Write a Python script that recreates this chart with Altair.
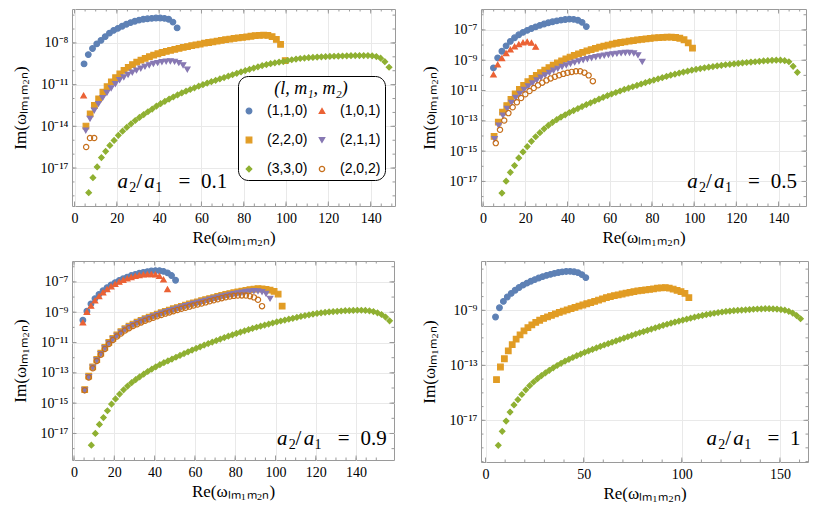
import altair as alt
import pandas as pd

# ---------------- legend / styling tables ----------------
# legend is filled column by column, so this order gives rows (1,1,0)|(1,0,1), (2,2,0)|(2,1,1), (3,3,0)|(2,0,2)
SERIES = ["(1,1,0)", "(2,2,0)", "(3,3,0)", "(1,0,1)", "(2,1,1)", "(2,0,2)"]
COLORS = ["#5E81B5", "#E19C24", "#8FB032", "#EB6235", "#8778B3", "#C56E1A"]
FILLS = ["#5E81B5", "#E19C24", "#8FB032", "#EB6235", "#8778B3", "transparent"]
SHAPES = ["circle", "square", "diamond", "triangle-up", "triangle-down", "circle"]
SIZES = [32, 28, 36, 40, 40, 24]

SERIF = "Liberation Serif"
SANS = "Liberation Sans"
FRAME = "#9a9a9a"
GRID = "#e9e9e9"

# ---------------- data (x = Re, y = log10 Im) ----------------
# panel 1 : a2/a1 = 0.1
P1_110_X = [4.5, 6.5, 8.5, 10.5, 12.5, 14.5, 16.5, 18.5, 20.5, 22.5, 24.5, 26.5, 28.5, 30.5, 32.5, 34.5, 36.5, 38.5, 40.5, 42.5, 44.5, 46.5, 48.5]
P1_110_Y = [-9.51, -8.84, -8.40, -8.07, -7.82, -7.55, -7.30, -7.10, -6.95, -6.80, -6.66, -6.54, -6.44, -6.36, -6.30, -6.26, -6.23, -6.21, -6.21, -6.23, -6.30, -6.50, -6.92]
P1_101_X = [4.3]
P1_101_Y = [-11.78]
P1_220_X = [5.4, 7.4, 9.4, 11.4, 13.4, 15.4, 17.4, 19.4, 21.4, 23.4, 25.4, 27.4, 29.4, 31.4, 33.4, 35.4, 37.4, 39.4, 41.4, 43.4, 45.4, 47.4, 49.4, 51.4, 53.4, 55.4, 57.4, 59.4, 61.4, 63.4, 65.4, 67.4, 69.4, 71.4, 73.4, 75.4, 77.4, 79.4, 81.4, 83.4, 85.4, 87.4, 89.4, 91.4, 93.4, 95.4, 97.4, 99.6]
P1_220_Y = [-13.98, -13.10, -12.50, -12.02, -11.54, -11.15, -10.80, -10.50, -10.22, -9.98, -9.76, -9.56, -9.38, -9.24, -9.11, -8.99, -8.88, -8.78, -8.69, -8.61, -8.53, -8.46, -8.39, -8.32, -8.26, -8.20, -8.14, -8.08, -8.02, -7.97, -7.92, -7.87, -7.82, -7.77, -7.72, -7.68, -7.64, -7.60, -7.56, -7.52, -7.48, -7.45, -7.44, -7.46, -7.55, -7.75, -8.10, -9.27]
P1_211_X = [5.3, 7.3, 9.3, 11.3, 13.3, 15.3, 17.3, 19.3, 21.3, 23.3, 25.3, 27.3, 29.3, 31.3, 33.3, 35.3, 37.3, 39.3, 41.3, 43.3, 45.3, 47.3, 49.3, 51.3, 53.3]
P1_211_Y = [-14.29, -13.45, -12.86, -12.38, -11.95, -11.58, -11.25, -10.95, -10.66, -10.46, -10.28, -10.12, -9.97, -9.83, -9.70, -9.60, -9.50, -9.43, -9.37, -9.33, -9.32, -9.34, -9.43, -9.60, -9.91]
P1_202_X = [5.5, 7.3, 9.3]
P1_202_Y = [-15.49, -14.84, -14.84]
P1_330_X = [6.7, 8.7, 10.7, 12.7, 14.7, 16.7, 18.7, 20.7, 22.7, 24.7, 26.7, 28.7, 30.7, 32.7, 34.7, 36.7, 38.7, 40.7, 42.7, 44.7, 46.7, 48.7, 50.7, 52.7, 54.7, 56.7, 58.7, 60.7, 62.7, 64.7, 66.7, 68.7, 70.7, 72.7, 74.7, 76.7, 78.7, 80.7, 82.7, 84.7, 86.7, 88.7, 90.7, 92.7, 94.7, 96.7, 98.7, 100.7, 102.7, 104.7, 106.7, 108.7, 110.7, 112.7, 114.7, 116.7, 118.7, 120.7, 122.7, 124.7, 126.7, 128.7, 130.7, 132.7, 134.7, 136.7, 138.7, 140.7, 142.7, 144.7, 146.7, 148.7]
P1_330_Y = [-18.77, -17.69, -16.92, -16.25, -15.80, -15.37, -15.01, -14.65, -14.35, -14.07,
            -13.82, -13.58, -13.36, -13.15, -12.95, -12.76, -12.55, -12.37, -12.20, -12.04,
            -11.89, -11.74, -11.60, -11.47, -11.35, -11.23, -11.11, -11.00, -10.89, -10.79,
            -10.69, -10.59, -10.49, -10.39, -10.29, -10.19, -10.09, -9.99, -9.90, -9.81,
            -9.72, -9.63, -9.56, -9.49, -9.43, -9.38, -9.34, -9.27, -9.21, -9.16,
            -9.12, -9.09, -9.06, -9.04, -9.02, -9.00, -8.99, -8.97, -8.96, -8.95,
            -8.94, -8.93, -8.92, -8.91, -8.91, -8.91, -8.91, -8.93, -8.98, -9.10,
            -9.35, -9.75]

# panel 2 : a2/a1 = 0.5
P2_110_X = [4.9, 6.9, 8.9, 10.9, 12.9, 14.9, 16.9, 18.9, 20.9, 22.9, 24.9, 26.9, 28.9, 30.9, 32.9, 34.9, 36.9, 38.9, 40.9, 42.9, 44.9, 46.9, 48.9]
P2_110_Y = [-9.51, -8.85, -8.41, -8.05, -7.76, -7.52, -7.32, -7.16, -7.03, -6.91, -6.80, -6.70, -6.61, -6.53, -6.46, -6.40, -6.35, -6.31, -6.29, -6.30, -6.36, -6.50, -6.78]
P2_101_X = [4.9, 6.9, 8.9, 10.9, 12.9, 14.9, 16.9, 18.9, 20.9, 22.9, 24.9]
P2_101_Y = [-9.95, -9.29, -8.87, -8.54, -8.30, -8.10, -7.95, -7.84, -7.78, -7.85, -8.12]
P2_220_X = [5.2, 7.2, 9.2, 11.2, 13.2, 15.2, 17.2, 19.2, 21.2, 23.2, 25.2, 27.2, 29.2, 31.2, 33.2, 35.2, 37.2, 39.2, 41.2, 43.2, 45.2, 47.2, 49.2, 51.2, 53.2, 55.2, 57.2, 59.2, 61.2, 63.2, 65.2, 67.2, 69.2, 71.2, 73.2, 75.2, 77.2, 79.2, 81.2, 83.2, 85.2, 87.2, 89.2, 91.2, 93.2, 95.2, 97.2, 99.2]
P2_220_Y = [-14.03, -13.09, -12.43, -11.99, -11.58, -11.22, -10.92, -10.66, -10.42, -10.20,
            -10.00, -9.82, -9.66, -9.49, -9.33, -9.18, -9.04, -8.91, -8.79, -8.68,
            -8.58, -8.48, -8.39, -8.30, -8.22, -8.14, -8.07, -8.00, -7.94, -7.88,
            -7.83, -7.79, -7.74, -7.70, -7.66, -7.62, -7.59, -7.56, -7.53, -7.51,
            -7.49, -7.48, -7.48, -7.50, -7.55, -7.65, -7.85, -8.20]
P2_211_X = [5.4, 7.4, 9.4, 11.4, 13.4, 15.4, 17.4, 19.4, 21.4, 23.4, 25.4, 27.4, 29.4, 31.4, 33.4, 35.4, 37.4, 39.4, 41.4, 43.4, 45.4, 47.4, 49.4, 51.4, 53.4, 55.4, 57.4, 59.4, 61.4, 63.4, 65.4, 67.4, 69.4, 71.4, 73.4, 75.4]
P2_211_Y = [-14.19, -13.31, -12.65, -12.20, -11.80, -11.47, -11.20, -10.94, -10.72, -10.52,
            -10.32, -10.14, -9.98, -9.82, -9.68, -9.55, -9.43, -9.33, -9.23, -9.14,
            -9.06, -8.98, -8.91, -8.85, -8.79, -8.74, -8.69, -8.64, -8.60, -8.56,
            -8.53, -8.51, -8.51, -8.54, -8.66, -9.10]
P2_202_X = [6.0, 8.0, 10.0, 12.0, 14.0, 16.0, 18.0, 20.0, 22.0, 24.0, 26.0, 28.0, 30.0, 32.0, 34.0, 36.0, 38.0, 40.0, 42.0, 44.0, 46.0, 48.0, 50.0, 52.0]
P2_202_Y = [-14.47, -13.59, -12.98, -12.49, -12.10, -11.77, -11.49, -11.25, -11.03, -10.83,
            -10.65, -10.48, -10.33, -10.20, -10.09, -9.99, -9.90, -9.83, -9.77, -9.73,
            -9.73, -9.82, -10.00, -10.38]
P2_330_X = [8.9, 10.9, 12.9, 14.9, 16.9, 18.9, 20.9, 22.9, 24.9, 26.9, 28.9, 30.9, 32.9, 34.9, 36.9, 38.9, 40.9, 42.9, 44.9, 46.9, 48.9, 50.9, 52.9, 54.9, 56.9, 58.9, 60.9, 62.9, 64.9, 66.9, 68.9, 70.9, 72.9, 74.9, 76.9, 78.9, 80.9, 82.9, 84.9, 86.9, 88.9, 90.9, 92.9, 94.9, 96.9, 98.9, 100.9, 102.9, 104.9, 106.9, 108.9, 110.9, 112.9, 114.9, 116.9, 118.9, 120.9, 122.9, 124.9, 126.9, 128.9, 130.9, 132.9, 134.9, 136.9, 138.9, 140.9, 142.9, 144.9, 146.9, 148.9]
P2_330_Y = [-17.77, -16.98, -16.40, -15.95, -15.45, -15.05, -14.70, -14.35, -14.05, -13.78,
            -13.53, -13.30, -13.10, -12.92, -12.75, -12.60,
            -12.45, -12.32, -12.19, -12.06, -11.93, -11.81, -11.69, -11.57, -11.45, -11.34,
            -11.23, -11.13, -11.03, -10.93, -10.84, -10.75, -10.66, -10.57, -10.48, -10.39,
            -10.31, -10.23, -10.15, -10.07, -9.99, -9.92, -9.85, -9.78, -9.72, -9.66,
            -9.60, -9.55,
            -9.50, -9.46, -9.42, -9.38, -9.34, -9.30, -9.27, -9.24, -9.21, -9.18,
            -9.15, -9.12, -9.10, -9.07, -9.05, -9.03, -9.01, -9.00, -9.00, -9.03,
            -9.10, -9.40, -9.80]

# panel 3 : a2/a1 = 0.9
P3_110_X = [4.4, 6.4, 8.4, 10.4, 12.4, 14.4, 16.4, 18.4, 20.4, 22.4, 24.4, 26.4, 28.4, 30.4, 32.4, 34.4, 36.4, 38.4, 40.4, 42.4, 44.4, 46.4, 48.4, 50.4]
P3_110_Y = [-9.53, -8.93, -8.45, -8.10, -7.82, -7.58, -7.38, -7.20, -7.05, -6.91, -6.79, -6.68, -6.58, -6.50, -6.43, -6.37, -6.32, -6.28, -6.26, -6.26, -6.30, -6.40, -6.58, -6.89]
P3_101_X = [4.4, 6.4, 8.4, 10.4, 12.4, 14.4, 16.4, 18.4, 20.4, 22.4, 24.4, 26.4, 28.4, 30.4, 32.4, 34.4, 36.4, 38.4, 40.4, 42.4, 44.4, 46.4]
P3_101_Y = [-9.68, -8.98, -8.58, -8.23, -7.95, -7.70, -7.49, -7.30, -7.14, -7.00, -6.88, -6.78, -6.69, -6.62, -6.56, -6.52, -6.50, -6.49, -6.52, -6.62, -6.85, -7.48]
P3_220_X = [5.3, 7.3, 9.3, 11.3, 13.3, 15.3, 17.3, 19.3, 21.3, 23.3, 25.3, 27.3, 29.3, 31.3, 33.3, 35.3, 37.3, 39.3, 41.3, 43.3, 45.3, 47.3, 49.3, 51.3, 53.3, 55.3, 57.3, 59.3, 61.3, 63.3, 65.3, 67.3, 69.3, 71.3, 73.3, 75.3, 77.3, 79.3, 81.3, 83.3, 85.3, 87.3, 89.3, 91.3, 93.3, 95.3, 97.3, 99.3, 101.3, 103.3]
P3_220_Y = [-14.10, -13.22, -12.60, -12.12, -11.70, -11.32, -10.99, -10.72, -10.49, -10.28,
            -10.09, -9.92, -9.78, -9.66, -9.54, -9.43, -9.32, -9.22, -9.12, -9.03,
            -8.94, -8.86, -8.77, -8.69, -8.61, -8.53, -8.45, -8.38, -8.31, -8.24,
            -8.17, -8.10, -8.03, -7.96, -7.89, -7.83, -7.77, -7.71, -7.66, -7.61,
            -7.56, -7.51, -7.47, -7.45, -7.46, -7.49, -7.54, -7.62, -7.80, -8.60]
P3_211_X = P3_220_X[:47]
P3_211_Y = [-14.15, -13.27, -12.65, -12.17, -11.75, -11.37, -11.04, -10.77, -10.54, -10.33,
            -10.14, -9.97, -9.83, -9.71, -9.59, -9.48, -9.37, -9.27, -9.17, -9.08,
            -8.99, -8.91, -8.83, -8.75, -8.67, -8.59, -8.51, -8.44, -8.37, -8.30,
            -8.23, -8.16, -8.09, -8.02, -7.96, -7.90, -7.84, -7.79, -7.74, -7.69,
            -7.65, -7.62, -7.60, -7.61, -7.66, -7.78, -8.10]
P3_202_X = P3_220_X[:45]
P3_202_Y = [-14.15, -13.30, -12.70, -12.22, -11.80, -11.43, -11.10, -10.83, -10.60, -10.40,
            -10.21, -10.05, -9.91, -9.79, -9.67, -9.56, -9.46, -9.36, -9.27, -9.18,
            -9.09, -9.01, -8.93, -8.85, -8.77, -8.70, -8.63, -8.56, -8.49, -8.42,
            -8.35, -8.28, -8.21, -8.14, -8.07, -8.01, -7.96, -7.92, -7.90, -7.89,
            -7.90, -7.94, -8.02, -8.18, -8.60]
P3_330_X = [8.6, 10.6, 12.6, 14.6, 16.6, 18.6, 20.6, 22.6, 24.6, 26.6, 28.6, 30.6, 32.6, 34.6, 36.6, 38.6, 40.6, 42.6, 44.6, 46.6, 48.6, 50.6, 52.6, 54.6, 56.6, 58.6, 60.6, 62.6, 64.6, 66.6, 68.6, 70.6, 72.6, 74.6, 76.6, 78.6, 80.6, 82.6, 84.6, 86.6, 88.6, 90.6, 92.6, 94.6, 96.6, 98.6, 100.6, 102.6, 104.6, 106.6, 108.6, 110.6, 112.6, 114.6, 116.6, 118.6, 120.6, 122.6, 124.6, 126.6, 128.6, 130.6, 132.6, 134.6, 136.6, 138.6, 140.6, 142.6, 144.6, 146.6, 148.6, 150.6, 152.6, 154.6, 156.6]
P3_330_Y = [-17.77, -17.00, -16.40, -15.95, -15.50, -15.06, -14.72, -14.40, -14.12, -13.87,
            -13.65, -13.45, -13.26, -13.08, -12.91, -12.75, -12.60, -12.46, -12.33, -12.21,
            -12.09, -11.97, -11.85, -11.73, -11.61, -11.50, -11.39, -11.28, -11.17, -11.07,
            -10.97, -10.87, -10.77, -10.67, -10.58, -10.49, -10.40, -10.31, -10.23, -10.15,
            -10.07, -9.99, -9.92, -9.85, -9.78, -9.71, -9.64, -9.58, -9.52, -9.46,
            -9.40, -9.34, -9.28, -9.22, -9.17, -9.12, -9.08, -9.04, -9.01, -8.98,
            -8.96, -8.94, -8.92, -8.90, -8.89, -8.88, -8.87, -8.87, -8.88, -8.91,
            -8.96, -9.04, -9.15, -9.32, -9.57]

# panel 4 : a2/a1 = 1
P4_110_X = [5.1, 7.1, 9.1, 11.1, 13.1, 15.1, 17.1, 19.1, 21.1, 23.1, 25.1, 27.1, 29.1, 31.1, 33.1, 35.1, 37.1, 39.1, 41.1, 43.1, 45.1, 47.1, 49.1, 51.1]
P4_110_Y = [-9.48, -8.81, -8.35, -8.03, -7.77, -7.54, -7.34, -7.17, -7.02, -6.88, -6.76, -6.65, -6.55, -6.46, -6.38, -6.31, -6.25, -6.20, -6.17, -6.16, -6.19, -6.26, -6.40, -6.62]
P4_220_X = [5.6, 7.6, 9.6, 11.6, 13.6, 15.6, 17.6, 19.6, 21.6, 23.6, 25.6, 27.6, 29.6, 31.6, 33.6, 35.6, 37.6, 39.6, 41.6, 43.6, 45.6, 47.6, 49.6, 51.6, 53.6, 55.6, 57.6, 59.6, 61.6, 63.6, 65.6, 67.6, 69.6, 71.6, 73.6, 75.6, 77.6, 79.6, 81.6, 83.6, 85.6, 87.6, 89.6, 91.6, 93.6, 95.6, 97.6, 99.6, 101.6, 103.6]
P4_220_Y = [-14.04, -13.12, -12.52, -11.95, -11.50, -11.10, -10.78, -10.50, -10.26, -10.05,
            -9.87, -9.72, -9.59, -9.47, -9.36, -9.25, -9.15, -9.05, -8.96, -8.87,
            -8.79, -8.70, -8.61, -8.52, -8.43, -8.34, -8.25, -8.16, -8.07, -8.00,
            -7.93, -7.87, -7.81, -7.75, -7.69, -7.64, -7.59, -7.55, -7.51, -7.47,
            -7.43, -7.39, -7.36, -7.35, -7.38, -7.45, -7.54, -7.64, -7.76, -8.08]
P4_330_X = [6.5, 8.5, 10.5, 12.5, 14.5, 16.5, 18.5, 20.5, 22.5, 24.5, 26.5, 28.5, 30.5, 32.5, 34.5, 36.5, 38.5, 40.5, 42.5, 44.5, 46.5, 48.5, 50.5, 52.5, 54.5, 56.5, 58.5, 60.5, 62.5, 64.5, 66.5, 68.5, 70.5, 72.5, 74.5, 76.5, 78.5, 80.5, 82.5, 84.5, 86.5, 88.5, 90.5, 92.5, 94.5, 96.5, 98.5, 100.5, 102.5, 104.5, 106.5, 108.5, 110.5, 112.5, 114.5, 116.5, 118.5, 120.5, 122.5, 124.5, 126.5, 128.5, 130.5, 132.5, 134.5, 136.5, 138.5, 140.5, 142.5, 144.5, 146.5, 148.5, 150.5, 152.5, 154.5, 156.5, 158.5, 160.5]
P4_330_Y = [-18.82, -17.80, -17.05, -16.40, -15.88, -15.50, -15.12, -14.78, -14.48, -14.21,
            -13.97, -13.75, -13.55, -13.36, -13.18, -13.01, -12.85, -12.70, -12.56, -12.43,
            -12.30, -12.18, -12.06, -11.95, -11.84, -11.73, -11.62, -11.52, -11.42, -11.32,
            -11.22, -11.12, -11.02, -10.92, -10.82, -10.72, -10.63, -10.54, -10.45, -10.36,
            -10.27, -10.18, -10.09, -10.01, -9.93, -9.85, -9.78, -9.71, -9.64, -9.57,
            -9.50, -9.43, -9.37, -9.31, -9.26, -9.21, -9.16, -9.12, -9.08, -9.05,
            -9.02, -9.00, -8.98, -8.96, -8.94, -8.92, -8.90, -8.89, -8.88, -8.88,
            -8.89, -8.91, -8.94, -8.99, -9.07, -9.20, -9.38, -9.61]

# tick tables
XMAJ_A = [0, 20, 40, 60, 80, 100, 120, 140]
XMIN_A = [0, 5, 10, 15, 20, 25, 30, 35, 40, 45, 50, 55, 60, 65, 70, 75, 80, 85, 90, 95, 100, 105, 110, 115, 120, 125, 130, 135, 140, 145, 150]
XMAJ_B = [0, 50, 100, 150]
XMIN_B = [0, 10, 20, 30, 40, 50, 60, 70, 80, 90, 100, 110, 120, 130, 140, 150, 160]
YMAJ_1 = [-8, -11, -14, -17]
YMAJ_23 = [-7, -9, -11, -13, -15, -17]
YMAJ_4 = [-9, -13, -17]
YMIN_1 = [-19, -18, -17, -16, -15, -14, -13, -12, -11, -10, -9, -8, -7, -6]
YMIN_23 = [-18, -17, -16, -15, -14, -13, -12, -11, -10, -9, -8, -7, -6]
YMIN_4 = [-20, -19, -18, -17, -16, -15, -14, -13, -12, -11, -10, -9, -8, -7, -6]

# panel annotation "a2/a1 = value" pieces: (text, dx, dy, size, italic, align)
RATIO_PIECES = [("a", 0, 0, 21, True, "left"), ("2", 11.7, 4.3, 14, False, "left"),
                ("/", 18.6, 0, 21, False, "left"), ("a", 26.7, 0, 21, True, "left"),
                ("1", 37.6, 4.3, 14, False, "left"), ("=", 66.7, 0, 21, False, "center")]
RATIO_VALUE_DX = 83.4

SUP = "⁰¹²³⁴⁵⁶⁷⁸⁹"
E = "abs(round(log(datum.value)/LN10))"
YLABEL = ("'10⁻' + (" + E + " >= 10 ? substring('" + SUP + "', floor(" + E + "/10), floor(" + E
          + "/10)+1) : '') + substring('" + SUP + "', " + E + "%10, " + E + "%10+1)")


def series_df(items):
    rows = []
    for name, xs, ys in items:
        for xv, lv in zip(xs, ys):
            rows.append({"series": name, "x": xv, "y": 10.0 ** lv})
    return pd.DataFrame(rows)


def text_mark(t, x, y, size, italic, align):
    d = pd.DataFrame({"t": [t]})
    return alt.Chart(d).mark_text(
        font=SERIF, fontSize=size, fontStyle="italic" if italic else "normal",
        align=align, baseline="alphabetic", color="black").encode(
        text="t:N", x=alt.value(x), y=alt.value(y))


def make_panel(items, xdom, ydom, xmaj, xmin, ymaj, ymin, w, h, value, ax0, ay0, legend):
    xs = alt.Scale(domain=xdom, nice=False, zero=False)
    ys = alt.Scale(type="log", domain=[10.0 ** ydom[0], 10.0 ** ydom[1]], nice=False)
    if legend:
        leg = alt.Legend(
            title="(l, m₁, m₂)", orient="none", legendX=166, legendY=67, columns=2,
            strokeColor="black", fillColor="white", cornerRadius=10, padding=4,
            titleFont=SERIF, titleFontSize=18, titleFontStyle="italic", titleFontWeight="normal",
            titleColor="black", titleAnchor="middle", titlePadding=6,
            labelFont=SANS, labelFontSize=14, labelColor="black", labelOffset=11,
            rowPadding=15, columnPadding=7, symbolStrokeWidth=1.3,
        )
    else:
        leg = None
    xax = alt.Axis(values=xmaj, format="d", title="Re(ωₗₘ₁ₘ₂ₙ)", grid=True, gridColor=GRID,
                   ticks=False, domain=False, labelFont=SERIF, labelFontSize=14, labelColor="black",
                   labelPadding=5, labelFlush=False, labelOverlap=False, titleFont=SERIF,
                   titleFontSize=17, titleFontWeight="normal", titleColor="black", titlePadding=4)
    yax = alt.Axis(values=[10.0 ** e for e in ymaj], labelExpr=YLABEL, title="Im(ωₗₘ₁ₘ₂ₙ)",
                   grid=True, gridColor=GRID, ticks=False, domain=False, labelFont=SERIF,
                   labelFontSize=14, labelColor="black", labelPadding=4, labelFlush=False,
                   labelOverlap=False, titleFont=SERIF, titleFontSize=17, titleFontWeight="normal",
                   titleColor="black", titlePadding=10)
    df = series_df(items)
    pts = alt.Chart(df).mark_point(opacity=1, strokeWidth=1.2).encode(
        x=alt.X("x:Q", scale=xs, axis=xax),
        y=alt.Y("y:Q", scale=ys, axis=yax),
        fill=alt.Fill("series:N", scale=alt.Scale(domain=SERIES, range=FILLS), legend=leg),
        stroke=alt.Stroke("series:N", scale=alt.Scale(domain=SERIES, range=COLORS), legend=leg),
        shape=alt.Shape("series:N", scale=alt.Scale(domain=SERIES, range=SHAPES), legend=leg),
        size=alt.Size("series:N", scale=alt.Scale(domain=SERIES, range=SIZES), legend=leg),
    )
    layers = [pts]
    for vals, L in ((xmaj, 4.5), (xmin, 2.5)):
        d = pd.DataFrame({"x": vals})
        for y0, y1 in ((0, L), (h, h - L)):
            layers.append(alt.Chart(d).mark_rule(color=FRAME, strokeWidth=1).encode(
                x=alt.X("x:Q", scale=xs, axis=xax), y=alt.value(y0), y2=alt.value(y1)))
    for vals, L in ((ymaj, 4.5), (ymin, 2.5)):
        d = pd.DataFrame({"y": [10.0 ** e for e in vals]})
        for x0, x1 in ((0, L), (w, w - L)):
            layers.append(alt.Chart(d).mark_rule(color=FRAME, strokeWidth=1).encode(
                y=alt.Y("y:Q", scale=ys, axis=yax), x=alt.value(x0), x2=alt.value(x1)))
    for t, dx, dy, size, italic, align in RATIO_PIECES:
        layers.append(text_mark(t, ax0 + dx, ay0 + dy, size, italic, align))
    layers.append(text_mark(value, ax0 + RATIO_VALUE_DX, ay0, 21, False, "left"))
    return alt.layer(*layers).properties(width=w, height=h)


N110, N220, N330, N101, N211, N202 = SERIES

p1 = make_panel(
    [(N110, P1_110_X, P1_110_Y), (N220, P1_220_X, P1_220_Y), (N330, P1_330_X, P1_330_Y),
     (N101, P1_101_X, P1_101_Y), (N211, P1_211_X, P1_211_Y), (N202, P1_202_X, P1_202_Y)],
    [-1.2, 151.5], [-19.73, -5.56], XMAJ_A, XMIN_A, YMAJ_1, YMIN_1, 323, 197,
    "0.1", 45.6, 179, True)
p2 = make_panel(
    [(N110, P2_110_X, P2_110_Y), (N220, P2_220_X, P2_220_Y), (N330, P2_330_X, P2_330_Y),
     (N101, P2_101_X, P2_101_Y), (N211, P2_211_X, P2_211_Y), (N202, P2_202_X, P2_202_Y)],
    [-1.0, 153.0], [-18.62, -5.62], XMAJ_A, XMIN_A, YMAJ_23, YMIN_23, 325, 197,
    "0.5", 206.3, 179, False)
p3 = make_panel(
    [(N110, P3_110_X, P3_110_Y), (N220, P3_220_X, P3_220_Y), (N330, P3_330_X, P3_330_Y),
     (N101, P3_101_X, P3_101_Y), (N211, P3_211_X, P3_211_Y), (N202, P3_202_X, P3_202_Y)],
    [-1.0, 158.8], [-18.75, -5.62], XMAJ_A, XMIN_A, YMAJ_23, YMIN_23, 322, 199,
    "0.9", 205, 184, False)
p4 = make_panel(
    [(N110, P4_110_X, P4_110_Y), (N220, P4_220_X, P4_220_Y), (N330, P4_330_X, P4_330_Y)],
    [-2.3, 164.3], [-20.03, -5.41], XMAJ_B, XMIN_B, YMAJ_4, YMIN_4, 327, 201,
    "1", 225.6, 184, False)

chart = alt.concat(p1, p2, p3, p4, columns=2, spacing={"row": 14, "column": 24}).resolve_scale(
    fill="independent", stroke="independent", shape="independent", size="independent"
).properties(padding={"left": 3, "top": 0, "right": 0, "bottom": 0}, background="white"
             ).configure_view(stroke=FRAME, strokeWidth=1)

chart.save("out.html", embed_options={"renderer": "svg", "actions": False})
